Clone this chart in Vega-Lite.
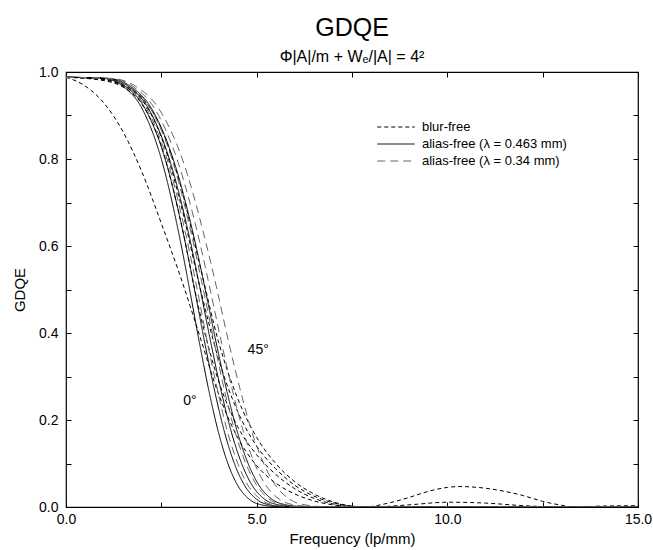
{
  "$schema": "https://vega.github.io/schema/vega-lite/v6.json",
  "width": 572,
  "height": 435,
  "autosize": {"type": "none"},
  "padding": {"left": 66, "top": 72, "right": 15, "bottom": 43},
  "background": "white",
  "config": {
    "font": "Liberation Sans",
    "view": {"stroke": "black", "strokeWidth": 1.2},
    "axis": {"grid": false, "domain": false, "labelFont": "Liberation Sans", "titleFont": "Liberation Sans", "labelFontSize": 14, "titleFontSize": 15, "titleFontWeight": "normal", "labelColor": "black", "titleColor": "black", "tickColor": "black"},
    "legend": {"rowPadding": 2, "symbolType": "M-2.5,0H2.5", "symbolSize": 225, "symbolStrokeWidth": 1, "labelFontSize": 13, "labelFont": "Liberation Sans", "labelOffset": 18, "labelColor": "black"}
  },
  "title": {"text": "GDQE", "subtitle": "Φ|A|/m + Wₑ/|A| = 4²", "fontSize": 25, "fontWeight": "normal", "subtitleFontSize": 16, "subtitleFontWeight": "normal", "subtitleColor": "black", "subtitlePadding": 8, "offset": 0, "anchor": "middle"},
  "datasets": {
    "curves": [
      {"type": "blur-free", "curve": "B0", "f": 0, "v": 0.988},
      {"type": "blur-free", "curve": "B0", "f": 0.5, "v": 0.968},
      {"type": "blur-free", "curve": "B0", "f": 1, "v": 0.928},
      {"type": "blur-free", "curve": "B0", "f": 1.5, "v": 0.862},
      {"type": "blur-free", "curve": "B0", "f": 2, "v": 0.768},
      {"type": "blur-free", "curve": "B0", "f": 2.5, "v": 0.652},
      {"type": "blur-free", "curve": "B0", "f": 3, "v": 0.53},
      {"type": "blur-free", "curve": "B0", "f": 3.5, "v": 0.395},
      {"type": "blur-free", "curve": "B0", "f": 4, "v": 0.26},
      {"type": "blur-free", "curve": "B0", "f": 4.5, "v": 0.16},
      {"type": "blur-free", "curve": "B0", "f": 5, "v": 0.095},
      {"type": "blur-free", "curve": "B0", "f": 5.5, "v": 0.055},
      {"type": "blur-free", "curve": "B0", "f": 6, "v": 0.03},
      {"type": "blur-free", "curve": "B0", "f": 6.5, "v": 0.014},
      {"type": "blur-free", "curve": "B0", "f": 7, "v": 0.005},
      {"type": "blur-free", "curve": "B0", "f": 7.5, "v": 0.001},
      {"type": "blur-free", "curve": "B0", "f": 8, "v": 0},
      {"type": "blur-free", "curve": "B0", "f": 15, "v": 0},

      {"type": "blur-free", "curve": "B1", "f": 0, "v": 0.988},
      {"type": "blur-free", "curve": "B1", "f": 1, "v": 0.98},
      {"type": "blur-free", "curve": "B1", "f": 1.5, "v": 0.965},
      {"type": "blur-free", "curve": "B1", "f": 2, "v": 0.925},
      {"type": "blur-free", "curve": "B1", "f": 2.5, "v": 0.83},
      {"type": "blur-free", "curve": "B1", "f": 3, "v": 0.66},
      {"type": "blur-free", "curve": "B1", "f": 3.5, "v": 0.45},
      {"type": "blur-free", "curve": "B1", "f": 4, "v": 0.29},
      {"type": "blur-free", "curve": "B1", "f": 4.5, "v": 0.185},
      {"type": "blur-free", "curve": "B1", "f": 5, "v": 0.12},
      {"type": "blur-free", "curve": "B1", "f": 5.5, "v": 0.075},
      {"type": "blur-free", "curve": "B1", "f": 6, "v": 0.042},
      {"type": "blur-free", "curve": "B1", "f": 6.5, "v": 0.02},
      {"type": "blur-free", "curve": "B1", "f": 7, "v": 0.007},
      {"type": "blur-free", "curve": "B1", "f": 7.5, "v": 0.001},
      {"type": "blur-free", "curve": "B1", "f": 8, "v": 0},
      {"type": "blur-free", "curve": "B1", "f": 9, "v": 0.005},
      {"type": "blur-free", "curve": "B1", "f": 10, "v": 0.011},
      {"type": "blur-free", "curve": "B1", "f": 11, "v": 0.009},
      {"type": "blur-free", "curve": "B1", "f": 12, "v": 0.003},
      {"type": "blur-free", "curve": "B1", "f": 13, "v": 0},
      {"type": "blur-free", "curve": "B1", "f": 15, "v": 0.001},

      {"type": "blur-free", "curve": "B2", "f": 0, "v": 0.988},
      {"type": "blur-free", "curve": "B2", "f": 1, "v": 0.982},
      {"type": "blur-free", "curve": "B2", "f": 1.5, "v": 0.968},
      {"type": "blur-free", "curve": "B2", "f": 2, "v": 0.935},
      {"type": "blur-free", "curve": "B2", "f": 2.5, "v": 0.85},
      {"type": "blur-free", "curve": "B2", "f": 3, "v": 0.7},
      {"type": "blur-free", "curve": "B2", "f": 3.5, "v": 0.51},
      {"type": "blur-free", "curve": "B2", "f": 4, "v": 0.34},
      {"type": "blur-free", "curve": "B2", "f": 4.5, "v": 0.22},
      {"type": "blur-free", "curve": "B2", "f": 5, "v": 0.14},
      {"type": "blur-free", "curve": "B2", "f": 5.5, "v": 0.088},
      {"type": "blur-free", "curve": "B2", "f": 6, "v": 0.05},
      {"type": "blur-free", "curve": "B2", "f": 6.5, "v": 0.025},
      {"type": "blur-free", "curve": "B2", "f": 7, "v": 0.01},
      {"type": "blur-free", "curve": "B2", "f": 7.5, "v": 0.002},
      {"type": "blur-free", "curve": "B2", "f": 8, "v": 0},
      {"type": "blur-free", "curve": "B2", "f": 15, "v": 0},

      {"type": "blur-free", "curve": "B3", "f": 0, "v": 0.988},
      {"type": "blur-free", "curve": "B3", "f": 1, "v": 0.983},
      {"type": "blur-free", "curve": "B3", "f": 1.5, "v": 0.97},
      {"type": "blur-free", "curve": "B3", "f": 2, "v": 0.94},
      {"type": "blur-free", "curve": "B3", "f": 2.5, "v": 0.87},
      {"type": "blur-free", "curve": "B3", "f": 3, "v": 0.74},
      {"type": "blur-free", "curve": "B3", "f": 3.5, "v": 0.56},
      {"type": "blur-free", "curve": "B3", "f": 4, "v": 0.38},
      {"type": "blur-free", "curve": "B3", "f": 4.5, "v": 0.25},
      {"type": "blur-free", "curve": "B3", "f": 5, "v": 0.16},
      {"type": "blur-free", "curve": "B3", "f": 5.5, "v": 0.1},
      {"type": "blur-free", "curve": "B3", "f": 6, "v": 0.058},
      {"type": "blur-free", "curve": "B3", "f": 6.5, "v": 0.03},
      {"type": "blur-free", "curve": "B3", "f": 7, "v": 0.012},
      {"type": "blur-free", "curve": "B3", "f": 7.5, "v": 0.002},
      {"type": "blur-free", "curve": "B3", "f": 7.8, "v": 0},
      {"type": "blur-free", "curve": "B3", "f": 8.5, "v": 0.01},
      {"type": "blur-free", "curve": "B3", "f": 9, "v": 0.022},
      {"type": "blur-free", "curve": "B3", "f": 9.5, "v": 0.036},
      {"type": "blur-free", "curve": "B3", "f": 10, "v": 0.045},
      {"type": "blur-free", "curve": "B3", "f": 10.3, "v": 0.047},
      {"type": "blur-free", "curve": "B3", "f": 10.8, "v": 0.045},
      {"type": "blur-free", "curve": "B3", "f": 11.5, "v": 0.036},
      {"type": "blur-free", "curve": "B3", "f": 12, "v": 0.026},
      {"type": "blur-free", "curve": "B3", "f": 12.5, "v": 0.013},
      {"type": "blur-free", "curve": "B3", "f": 13, "v": 0.004},
      {"type": "blur-free", "curve": "B3", "f": 13.3, "v": 0},
      {"type": "blur-free", "curve": "B3", "f": 14, "v": 0.002},
      {"type": "blur-free", "curve": "B3", "f": 15, "v": 0.003},

      {"type": "alias-free (λ = 0.463 mm)", "curve": "S1", "f": 0, "v": 0.988},
      {"type": "alias-free (λ = 0.463 mm)", "curve": "S1", "f": 1, "v": 0.985},
      {"type": "alias-free (λ = 0.463 mm)", "curve": "S1", "f": 1.5, "v": 0.967},
      {"type": "alias-free (λ = 0.463 mm)", "curve": "S1", "f": 2, "v": 0.915},
      {"type": "alias-free (λ = 0.463 mm)", "curve": "S1", "f": 2.5, "v": 0.8},
      {"type": "alias-free (λ = 0.463 mm)", "curve": "S1", "f": 3, "v": 0.611},
      {"type": "alias-free (λ = 0.463 mm)", "curve": "S1", "f": 3.25, "v": 0.496},
      {"type": "alias-free (λ = 0.463 mm)", "curve": "S1", "f": 3.5, "v": 0.377},
      {"type": "alias-free (λ = 0.463 mm)", "curve": "S1", "f": 3.75, "v": 0.266},
      {"type": "alias-free (λ = 0.463 mm)", "curve": "S1", "f": 4, "v": 0.171},
      {"type": "alias-free (λ = 0.463 mm)", "curve": "S1", "f": 4.25, "v": 0.099},
      {"type": "alias-free (λ = 0.463 mm)", "curve": "S1", "f": 4.5, "v": 0.05},
      {"type": "alias-free (λ = 0.463 mm)", "curve": "S1", "f": 4.75, "v": 0.022},
      {"type": "alias-free (λ = 0.463 mm)", "curve": "S1", "f": 5, "v": 0.008},
      {"type": "alias-free (λ = 0.463 mm)", "curve": "S1", "f": 5.5, "v": 0.001},
      {"type": "alias-free (λ = 0.463 mm)", "curve": "S1", "f": 6, "v": 0},
      {"type": "alias-free (λ = 0.463 mm)", "curve": "S1", "f": 15, "v": 0},

      {"type": "alias-free (λ = 0.463 mm)", "curve": "S2", "f": 0, "v": 0.988},
      {"type": "alias-free (λ = 0.463 mm)", "curve": "S2", "f": 1.04, "v": 0.985},
      {"type": "alias-free (λ = 0.463 mm)", "curve": "S2", "f": 1.56, "v": 0.967},
      {"type": "alias-free (λ = 0.463 mm)", "curve": "S2", "f": 2.08, "v": 0.915},
      {"type": "alias-free (λ = 0.463 mm)", "curve": "S2", "f": 2.6, "v": 0.8},
      {"type": "alias-free (λ = 0.463 mm)", "curve": "S2", "f": 3.12, "v": 0.611},
      {"type": "alias-free (λ = 0.463 mm)", "curve": "S2", "f": 3.38, "v": 0.496},
      {"type": "alias-free (λ = 0.463 mm)", "curve": "S2", "f": 3.64, "v": 0.377},
      {"type": "alias-free (λ = 0.463 mm)", "curve": "S2", "f": 3.9, "v": 0.266},
      {"type": "alias-free (λ = 0.463 mm)", "curve": "S2", "f": 4.16, "v": 0.171},
      {"type": "alias-free (λ = 0.463 mm)", "curve": "S2", "f": 4.42, "v": 0.099},
      {"type": "alias-free (λ = 0.463 mm)", "curve": "S2", "f": 4.68, "v": 0.05},
      {"type": "alias-free (λ = 0.463 mm)", "curve": "S2", "f": 4.94, "v": 0.022},
      {"type": "alias-free (λ = 0.463 mm)", "curve": "S2", "f": 5.2, "v": 0.008},
      {"type": "alias-free (λ = 0.463 mm)", "curve": "S2", "f": 5.72, "v": 0.001},
      {"type": "alias-free (λ = 0.463 mm)", "curve": "S2", "f": 6.24, "v": 0},
      {"type": "alias-free (λ = 0.463 mm)", "curve": "S2", "f": 15, "v": 0},

      {"type": "alias-free (λ = 0.463 mm)", "curve": "S3", "f": 0, "v": 0.988},
      {"type": "alias-free (λ = 0.463 mm)", "curve": "S3", "f": 1.09, "v": 0.985},
      {"type": "alias-free (λ = 0.463 mm)", "curve": "S3", "f": 1.63, "v": 0.967},
      {"type": "alias-free (λ = 0.463 mm)", "curve": "S3", "f": 2.17, "v": 0.915},
      {"type": "alias-free (λ = 0.463 mm)", "curve": "S3", "f": 2.71, "v": 0.8},
      {"type": "alias-free (λ = 0.463 mm)", "curve": "S3", "f": 3.26, "v": 0.611},
      {"type": "alias-free (λ = 0.463 mm)", "curve": "S3", "f": 3.53, "v": 0.496},
      {"type": "alias-free (λ = 0.463 mm)", "curve": "S3", "f": 3.8, "v": 0.377},
      {"type": "alias-free (λ = 0.463 mm)", "curve": "S3", "f": 4.07, "v": 0.266},
      {"type": "alias-free (λ = 0.463 mm)", "curve": "S3", "f": 4.34, "v": 0.171},
      {"type": "alias-free (λ = 0.463 mm)", "curve": "S3", "f": 4.61, "v": 0.099},
      {"type": "alias-free (λ = 0.463 mm)", "curve": "S3", "f": 4.88, "v": 0.05},
      {"type": "alias-free (λ = 0.463 mm)", "curve": "S3", "f": 5.15, "v": 0.022},
      {"type": "alias-free (λ = 0.463 mm)", "curve": "S3", "f": 5.43, "v": 0.008},
      {"type": "alias-free (λ = 0.463 mm)", "curve": "S3", "f": 5.97, "v": 0.001},
      {"type": "alias-free (λ = 0.463 mm)", "curve": "S3", "f": 6.51, "v": 0},
      {"type": "alias-free (λ = 0.463 mm)", "curve": "S3", "f": 15, "v": 0},

      {"type": "alias-free (λ = 0.463 mm)", "curve": "S4", "f": 0, "v": 0.988},
      {"type": "alias-free (λ = 0.463 mm)", "curve": "S4", "f": 1.13, "v": 0.985},
      {"type": "alias-free (λ = 0.463 mm)", "curve": "S4", "f": 1.69, "v": 0.967},
      {"type": "alias-free (λ = 0.463 mm)", "curve": "S4", "f": 2.25, "v": 0.915},
      {"type": "alias-free (λ = 0.463 mm)", "curve": "S4", "f": 2.81, "v": 0.8},
      {"type": "alias-free (λ = 0.463 mm)", "curve": "S4", "f": 3.38, "v": 0.611},
      {"type": "alias-free (λ = 0.463 mm)", "curve": "S4", "f": 3.66, "v": 0.496},
      {"type": "alias-free (λ = 0.463 mm)", "curve": "S4", "f": 3.94, "v": 0.377},
      {"type": "alias-free (λ = 0.463 mm)", "curve": "S4", "f": 4.22, "v": 0.266},
      {"type": "alias-free (λ = 0.463 mm)", "curve": "S4", "f": 4.5, "v": 0.171},
      {"type": "alias-free (λ = 0.463 mm)", "curve": "S4", "f": 4.78, "v": 0.099},
      {"type": "alias-free (λ = 0.463 mm)", "curve": "S4", "f": 5.06, "v": 0.05},
      {"type": "alias-free (λ = 0.463 mm)", "curve": "S4", "f": 5.34, "v": 0.022},
      {"type": "alias-free (λ = 0.463 mm)", "curve": "S4", "f": 5.63, "v": 0.008},
      {"type": "alias-free (λ = 0.463 mm)", "curve": "S4", "f": 6.19, "v": 0.001},
      {"type": "alias-free (λ = 0.463 mm)", "curve": "S4", "f": 6.75, "v": 0},
      {"type": "alias-free (λ = 0.463 mm)", "curve": "S4", "f": 15, "v": 0},

      {"type": "alias-free (λ = 0.34 mm)", "curve": "L1", "f": 0, "v": 0.988},
      {"type": "alias-free (λ = 0.34 mm)", "curve": "L1", "f": 1.06, "v": 0.985},
      {"type": "alias-free (λ = 0.34 mm)", "curve": "L1", "f": 1.59, "v": 0.967},
      {"type": "alias-free (λ = 0.34 mm)", "curve": "L1", "f": 2.12, "v": 0.915},
      {"type": "alias-free (λ = 0.34 mm)", "curve": "L1", "f": 2.65, "v": 0.8},
      {"type": "alias-free (λ = 0.34 mm)", "curve": "L1", "f": 3.18, "v": 0.611},
      {"type": "alias-free (λ = 0.34 mm)", "curve": "L1", "f": 3.45, "v": 0.496},
      {"type": "alias-free (λ = 0.34 mm)", "curve": "L1", "f": 3.71, "v": 0.377},
      {"type": "alias-free (λ = 0.34 mm)", "curve": "L1", "f": 3.98, "v": 0.266},
      {"type": "alias-free (λ = 0.34 mm)", "curve": "L1", "f": 4.24, "v": 0.171},
      {"type": "alias-free (λ = 0.34 mm)", "curve": "L1", "f": 4.51, "v": 0.099},
      {"type": "alias-free (λ = 0.34 mm)", "curve": "L1", "f": 4.77, "v": 0.05},
      {"type": "alias-free (λ = 0.34 mm)", "curve": "L1", "f": 5.04, "v": 0.022},
      {"type": "alias-free (λ = 0.34 mm)", "curve": "L1", "f": 5.3, "v": 0.008},
      {"type": "alias-free (λ = 0.34 mm)", "curve": "L1", "f": 5.83, "v": 0.001},
      {"type": "alias-free (λ = 0.34 mm)", "curve": "L1", "f": 6.36, "v": 0},
      {"type": "alias-free (λ = 0.34 mm)", "curve": "L1", "f": 15, "v": 0},

      {"type": "alias-free (λ = 0.34 mm)", "curve": "L2", "f": 0, "v": 0.988},
      {"type": "alias-free (λ = 0.34 mm)", "curve": "L2", "f": 1.11, "v": 0.985},
      {"type": "alias-free (λ = 0.34 mm)", "curve": "L2", "f": 1.67, "v": 0.967},
      {"type": "alias-free (λ = 0.34 mm)", "curve": "L2", "f": 2.22, "v": 0.915},
      {"type": "alias-free (λ = 0.34 mm)", "curve": "L2", "f": 2.78, "v": 0.8},
      {"type": "alias-free (λ = 0.34 mm)", "curve": "L2", "f": 3.33, "v": 0.611},
      {"type": "alias-free (λ = 0.34 mm)", "curve": "L2", "f": 3.61, "v": 0.496},
      {"type": "alias-free (λ = 0.34 mm)", "curve": "L2", "f": 3.89, "v": 0.377},
      {"type": "alias-free (λ = 0.34 mm)", "curve": "L2", "f": 4.16, "v": 0.266},
      {"type": "alias-free (λ = 0.34 mm)", "curve": "L2", "f": 4.44, "v": 0.171},
      {"type": "alias-free (λ = 0.34 mm)", "curve": "L2", "f": 4.72, "v": 0.099},
      {"type": "alias-free (λ = 0.34 mm)", "curve": "L2", "f": 5.0, "v": 0.05},
      {"type": "alias-free (λ = 0.34 mm)", "curve": "L2", "f": 5.27, "v": 0.022},
      {"type": "alias-free (λ = 0.34 mm)", "curve": "L2", "f": 5.55, "v": 0.008},
      {"type": "alias-free (λ = 0.34 mm)", "curve": "L2", "f": 6.11, "v": 0.001},
      {"type": "alias-free (λ = 0.34 mm)", "curve": "L2", "f": 6.66, "v": 0},
      {"type": "alias-free (λ = 0.34 mm)", "curve": "L2", "f": 15, "v": 0},

      {"type": "alias-free (λ = 0.34 mm)", "curve": "L3", "f": 0, "v": 0.988},
      {"type": "alias-free (λ = 0.34 mm)", "curve": "L3", "f": 1.17, "v": 0.985},
      {"type": "alias-free (λ = 0.34 mm)", "curve": "L3", "f": 1.75, "v": 0.967},
      {"type": "alias-free (λ = 0.34 mm)", "curve": "L3", "f": 2.33, "v": 0.915},
      {"type": "alias-free (λ = 0.34 mm)", "curve": "L3", "f": 2.91, "v": 0.8},
      {"type": "alias-free (λ = 0.34 mm)", "curve": "L3", "f": 3.5, "v": 0.611},
      {"type": "alias-free (λ = 0.34 mm)", "curve": "L3", "f": 3.79, "v": 0.496},
      {"type": "alias-free (λ = 0.34 mm)", "curve": "L3", "f": 4.08, "v": 0.377},
      {"type": "alias-free (λ = 0.34 mm)", "curve": "L3", "f": 4.37, "v": 0.266},
      {"type": "alias-free (λ = 0.34 mm)", "curve": "L3", "f": 4.66, "v": 0.171},
      {"type": "alias-free (λ = 0.34 mm)", "curve": "L3", "f": 4.95, "v": 0.099},
      {"type": "alias-free (λ = 0.34 mm)", "curve": "L3", "f": 5.24, "v": 0.05},
      {"type": "alias-free (λ = 0.34 mm)", "curve": "L3", "f": 5.53, "v": 0.022},
      {"type": "alias-free (λ = 0.34 mm)", "curve": "L3", "f": 5.83, "v": 0.008},
      {"type": "alias-free (λ = 0.34 mm)", "curve": "L3", "f": 6.41, "v": 0.001},
      {"type": "alias-free (λ = 0.34 mm)", "curve": "L3", "f": 6.99, "v": 0},
      {"type": "alias-free (λ = 0.34 mm)", "curve": "L3", "f": 15, "v": 0},

      {"type": "alias-free (λ = 0.34 mm)", "curve": "L4", "f": 0, "v": 0.988},
      {"type": "alias-free (λ = 0.34 mm)", "curve": "L4", "f": 1.22, "v": 0.985},
      {"type": "alias-free (λ = 0.34 mm)", "curve": "L4", "f": 1.83, "v": 0.967},
      {"type": "alias-free (λ = 0.34 mm)", "curve": "L4", "f": 2.44, "v": 0.915},
      {"type": "alias-free (λ = 0.34 mm)", "curve": "L4", "f": 3.05, "v": 0.8},
      {"type": "alias-free (λ = 0.34 mm)", "curve": "L4", "f": 3.66, "v": 0.611},
      {"type": "alias-free (λ = 0.34 mm)", "curve": "L4", "f": 3.97, "v": 0.496},
      {"type": "alias-free (λ = 0.34 mm)", "curve": "L4", "f": 4.27, "v": 0.377},
      {"type": "alias-free (λ = 0.34 mm)", "curve": "L4", "f": 4.58, "v": 0.266},
      {"type": "alias-free (λ = 0.34 mm)", "curve": "L4", "f": 4.88, "v": 0.171},
      {"type": "alias-free (λ = 0.34 mm)", "curve": "L4", "f": 5.19, "v": 0.099},
      {"type": "alias-free (λ = 0.34 mm)", "curve": "L4", "f": 5.49, "v": 0.05},
      {"type": "alias-free (λ = 0.34 mm)", "curve": "L4", "f": 5.8, "v": 0.022},
      {"type": "alias-free (λ = 0.34 mm)", "curve": "L4", "f": 6.1, "v": 0.008},
      {"type": "alias-free (λ = 0.34 mm)", "curve": "L4", "f": 6.71, "v": 0.001},
      {"type": "alias-free (λ = 0.34 mm)", "curve": "L4", "f": 7.32, "v": 0},
      {"type": "alias-free (λ = 0.34 mm)", "curve": "L4", "f": 15, "v": 0}
    ],
    "labels": [
      {"f": 5.04, "v": 0.36, "label": "45°"},
      {"f": 3.25, "v": 0.244, "label": "0°"}
    ]
  },
  "layer": [
    {
      "data": {"name": "curves"},
      "mark": {"type": "line", "strokeWidth": 1, "interpolate": "monotone", "clip": true},
      "encoding": {
        "x": {"field": "f", "type": "quantitative", "scale": {"domain": [0, 15], "nice": false, "zero": false},
          "axis": {"title": "Frequency (lp/mm)", "values": [0, 2.5, 5, 7.5, 10, 12.5, 15], "labelExpr": "datum.value % 5 == 0 ? format(datum.value, '.1f') : ''", "tickSize": -5, "labelPadding": 10, "titlePadding": 5, "labelFlush": false}},
        "y": {"field": "v", "type": "quantitative", "scale": {"domain": [0, 1], "nice": false},
          "axis": {"title": "GDQE", "values": [0, 0.1, 0.2, 0.3, 0.4, 0.5, 0.6, 0.7, 0.8, 0.9, 1], "labelExpr": "round(datum.value * 10) % 2 == 0 ? format(datum.value, '.1f') : ''", "tickSize": -5, "labelPadding": 13, "titlePadding": 11, "labelFlush": false}},
        "detail": {"field": "curve"},
        "strokeDash": {"field": "type", "type": "nominal",
          "scale": {"domain": ["blur-free", "alias-free (λ = 0.463 mm)", "alias-free (λ = 0.34 mm)"], "range": [[4, 3], [1, 0], [8, 5]]},
          "legend": {"title": null, "orient": "none", "legendX": 322, "legendY": 47}},
        "color": {"field": "type", "type": "nominal",
          "scale": {"domain": ["blur-free", "alias-free (λ = 0.463 mm)", "alias-free (λ = 0.34 mm)"], "range": ["black", "black", "#666666"]},
          "legend": {"title": null, "orient": "none", "legendX": 322, "legendY": 47}}
      }
    },
    {
      "data": {"name": "labels"},
      "mark": {"type": "text", "fontSize": 14, "font": "Liberation Sans", "color": "black"},
      "encoding": {
        "x": {"field": "f", "type": "quantitative",
          "axis": {"orient": "top", "title": null, "values": [0, 2.5, 5, 7.5, 10, 12.5, 15], "labels": false, "tickSize": -5}},
        "y": {"field": "v", "type": "quantitative",
          "axis": {"orient": "right", "title": null, "values": [0, 0.1, 0.2, 0.3, 0.4, 0.5, 0.6, 0.7, 0.8, 0.9, 1], "labels": false, "tickSize": -5}},
        "text": {"field": "label"}
      }
    }
  ],
  "resolve": {"axis": {"x": "independent", "y": "independent"}}
}
